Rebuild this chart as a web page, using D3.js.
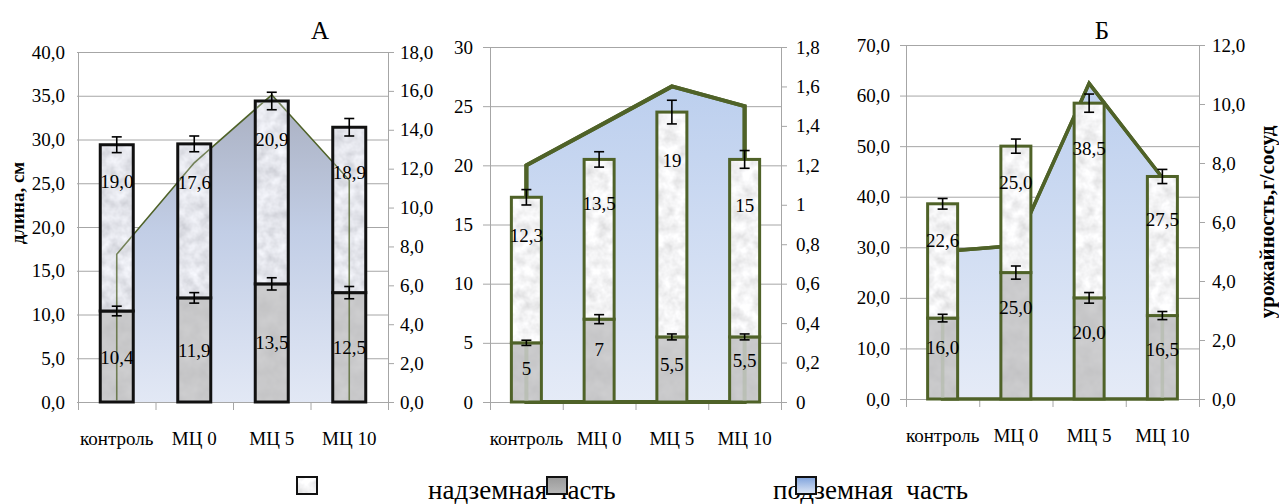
<!DOCTYPE html>
<html>
<head>
<meta charset="utf-8">
<script src="https://cdn.jsdelivr.net/npm/d3@7"></script>
<style>
  html, body { margin: 0; padding: 0; background: #fff; }
  svg { display: block; }
  svg text { font-family: 'Liberation Serif', 'Times New Roman', Tinos, serif !important; fill: #000; }
</style>
</head>
<body>
<svg id="chart" width="1279" height="504" font-family="Liberation Serif"></svg>
<script>
// ---- data ----
const categories = ["контроль", "МЦ 0", "МЦ 5", "МЦ 10"];

// Panel А: length, cm (left) and yield (right)
const topA      = [19.0, 17.6, 20.9, 18.9];
const bottomA   = [10.4, 11.9, 13.5, 12.5];
const topErrA   = [0.9, 0.9, 1.0, 1.0];
const bottomErrA= [0.55, 0.6, 0.7, 0.7];
const yieldA    = [7.6, 12.3, 15.8, 11.4];

// Middle panel
const topM      = [12.3, 13.5, 19, 15];
const bottomM   = [5, 7, 5.5, 5.5];
const topErrM   = [0.65, 0.65, 1.0, 0.75];
const bottomErrM= [0.22, 0.38, 0.25, 0.25];
const yieldM    = [1.2, 1.4, 1.6, 1.5];

// Panel Б
const topB      = [22.6, 25.0, 38.5, 27.5];
const bottomB   = [16.0, 25.0, 20.0, 16.5];
const topErrB   = [1.05, 1.4, 1.8, 1.4];
const bottomErrB= [0.75, 1.3, 1.05, 0.8];
const yieldB    = [5.0, 5.2, 10.7, 7.5];

// label anchors (axis units) for the upper-segment and lower-segment value labels
const topLabelAtA = [25.2, 25.1, 30.0, 26.2];
const botLabelAtA = [5.1, 5.9, 6.8, 6.2];
const topLabelAtM = [14.1, 16.8, 20.4, 16.6];
const botLabelAtM = [2.8, 4.4, 3.2, 3.5];
const topLabelAtB = [31.4, 42.9, 49.6, 35.4];
const botLabelAtB = [10.1, 18.0, 13.1, 9.7];

const FONT = "'Liberation Serif', 'Times New Roman', serif";
const svg = d3.select("#chart");
const defs = svg.append("defs");

// ---- textures ----
function noiseFilter(id, freq, a, b, tint) {
  const f = defs.append("filter").attr("id", id)
    .attr("filterUnits", "userSpaceOnUse")
    .attr("x", 0).attr("y", 0).attr("width", 420).attr("height", 440);
  f.append("feTurbulence").attr("type", "fractalNoise")
    .attr("baseFrequency", freq).attr("numOctaves", 3).attr("seed", 7);
  const m = [
    a, 0, 0, 0, b + tint[0],
    a, 0, 0, 0, b + tint[1],
    a, 0, 0, 0, b + tint[2],
    0, 0, 0, 0, 1
  ];
  f.append("feColorMatrix").attr("type", "matrix").attr("values", m.join(" "));
}
function pattern(id, filterId) {
  const p = defs.append("pattern").attr("id", id)
    .attr("patternUnits", "userSpaceOnUse")
    .attr("width", 420).attr("height", 440);
  p.append("rect").attr("width", 420).attr("height", 440)
    .attr("filter", `url(#${filterId})`);
}
noiseFilter("nLight", 0.09, 0.46, 0.67, [0, 0, 0.01]);
noiseFilter("nBlueGray", 0.09, 0.44, 0.56, [0, 0.01, 0.06]);
noiseFilter("nDark", 0.06, 0.12, 0.52, [0, 0, 0.01]);
pattern("texLight", "nLight");
pattern("texA", "nBlueGray");
pattern("texDark", "nDark");

function vGrad(id, stops) {
  const g = defs.append("linearGradient").attr("id", id)
    .attr("x1", 0).attr("y1", 0).attr("x2", 0).attr("y2", 1);
  stops.forEach(s => g.append("stop").attr("offset", s[0]).attr("stop-color", s[1]));
}
vGrad("areaA", [[0, "#a9afc0"], [0.45, "#c2cee6"], [1, "#e2e8f5"]]);
vGrad("areaBlue", [[0, "#bccfee"], [1, "#e5ebf7"]]);
vGrad("legendBlue", [[0, "#7ea2dc"], [1, "#e0e8f6"]]);
vGrad("legendGray", [[0, "#9a9a9a"], [1, "#b8b8b8"]]);

const fmt1 = v => v.toFixed(1).replace(".", ",");
const fmtShort = v => String(Math.round(v * 10) / 10).replace(".", ",");

const green = "#4f6228";
const gridCol = "#a6a6a6";

function serif(sel, size) {
  sel.attr("font-family", FONT).style("font-family", FONT).style("font-size", size + "px");
  return sel;
}

// ---- one panel ----
function drawPanel(cfg) {
  const g = svg.append("g");
  const x = d3.scaleBand().domain(categories).range([cfg.left, cfg.right]).padding(0);
  const y = d3.scaleLinear().domain([0, cfg.yMax]).range([cfg.bottom, cfg.top]);
  const yR = d3.scaleLinear().domain([0, cfg.rMax]).range([cfg.bottom, cfg.top]);
  const cx = c => x(c) + x.bandwidth() / 2;
  const leftTicks = d3.range(0, cfg.yMax + 1e-9, cfg.yStep);
  const rightTicks = d3.range(0, cfg.rMax + 1e-9, cfg.rStep).map(v => Math.round(v * 10) / 10);

  // gridlines
  const grid = g.append("g").attr("transform", `translate(${cfg.left},0)`)
    .call(d3.axisLeft(y).tickValues(leftTicks).tickSize(-(cfg.right - cfg.left)).tickFormat(""));
  grid.select(".domain").remove();
  grid.selectAll(".tick line").attr("stroke", gridCol).attr("x1", -cfg.outTick);

  // left axis labels + axis line
  const ax = g.append("g").attr("transform", `translate(${cfg.left},0)`)
    .call(d3.axisLeft(y).tickValues(leftTicks).tickSize(0).tickPadding(cfg.leftPad).tickFormat(cfg.leftFmt));
  ax.select(".domain").attr("stroke", gridCol);
  serif(ax.attr("font-family", FONT).selectAll("text"), 19);

  // right axis
  const axR = g.append("g").attr("transform", `translate(${cfg.right},0)`)
    .call(d3.axisRight(yR).tickValues(rightTicks).tickSize(6).tickPadding(cfg.rightPad).tickFormat(cfg.rightFmt));
  axR.select(".domain").attr("stroke", gridCol);
  axR.selectAll(".tick line").attr("stroke", gridCol);
  serif(axR.attr("font-family", FONT).selectAll("text"), 19);

  // category axis: boundary ticks + labels
  const xb = d3.scaleLinear().domain([0, categories.length]).range([cfg.left, cfg.right]);
  const axB = g.append("g").attr("transform", `translate(0,${cfg.bottom})`)
    .call(d3.axisBottom(xb).ticks(categories.length).tickSize(8).tickFormat(""));
  axB.select(".domain").attr("stroke", gridCol);
  axB.selectAll(".tick line").attr("stroke", gridCol);
  const axL = g.append("g").attr("transform", `translate(0,${cfg.bottom})`)
    .call(d3.axisBottom(x).tickSize(0).tickPadding(30));
  axL.select(".domain").remove();
  serif(axL.attr("font-family", FONT).selectAll("text"), 19);

  // yield area (secondary axis)
  const area = d3.area().x((d, i) => cx(categories[i])).y0(yR(0)).y1(d => yR(d));
  g.append("path").datum(cfg.yieldVals).attr("d", area)
    .attr("fill", cfg.areaFill)
    .attr("stroke", cfg.strokeBase ? green : "none").attr("stroke-width", cfg.lineW);
  const outline = () => {
    const n = cfg.yieldVals.length;
    const pts = [[cx(categories[0]), yR(0)]]
      .concat(cfg.yieldVals.map((v, i) => [cx(categories[i]), yR(v)]))
      .concat([[cx(categories[n - 1]), yR(0)]]);
    return d3.line()(pts);
  };
  g.append("path").attr("d", outline()).attr("fill", "none")
    .attr("stroke", green).attr("stroke-width", cfg.lineW).attr("stroke-linejoin", "miter");

  // bars
  const bw = cfg.barW;
  const clipId = "clip" + cfg.id;
  const clip = defs.append("clipPath").attr("id", clipId);
  categories.forEach((c, i) => {
    const b = cfg.bottomVals[i], t = cfg.topVals[i];
    const x0 = cx(c) - bw / 2;
    g.append("rect").attr("x", x0).attr("y", y(b)).attr("width", bw).attr("height", y(0) - y(b))
      .attr("fill", "url(#texDark)").attr("stroke", cfg.barStroke).attr("stroke-width", 3);
    g.append("rect").attr("x", x0).attr("y", y(b + t)).attr("width", bw).attr("height", y(b) - y(b + t))
      .attr("fill", `url(#${cfg.topTex})`).attr("stroke", cfg.barStroke).attr("stroke-width", 3);
    clip.append("rect").attr("x", x0 + 1.5).attr("y", cfg.lineThroughTop ? y(b + t) + 1.5 : y(b) + 1.5)
      .attr("width", bw - 3).attr("height", (cfg.lineThroughTop ? y(0) - y(b + t) : y(0) - y(b)) - 3);
  });
  // outline seen through the bars
  g.append("path").attr("d", outline()).attr("fill", "none")
    .attr("clip-path", `url(#${clipId})`)
    .attr("stroke", cfg.throughColor).attr("stroke-width", cfg.lineW).attr("opacity", cfg.throughOpacity);

  // error bars
  const errBar = (xc, v, e) => {
    const eg = g.append("g").attr("stroke", "#000").attr("stroke-width", 1.6);
    eg.append("line").attr("x1", xc).attr("x2", xc).attr("y1", y(v - e)).attr("y2", y(v + e));
    eg.append("line").attr("x1", xc - 5).attr("x2", xc + 5).attr("y1", y(v - e)).attr("y2", y(v - e));
    eg.append("line").attr("x1", xc - 5).attr("x2", xc + 5).attr("y1", y(v + e)).attr("y2", y(v + e));
  };
  categories.forEach((c, i) => {
    const b = cfg.bottomVals[i], t = cfg.topVals[i];
    errBar(cx(c), b, cfg.bottomErr[i]);
    errBar(cx(c), b + t, cfg.topErr[i]);
  });

  // value labels
  categories.forEach((c, i) => {
    serif(g.append("text").attr("x", cx(c)).attr("y", y(cfg.topLabelAt[i]))
      .attr("text-anchor", "middle").attr("dominant-baseline", "central"), 19)
      .text(cfg.labelFmt(cfg.topVals[i]));
    serif(g.append("text").attr("x", cx(c)).attr("y", y(cfg.botLabelAt[i]))
      .attr("text-anchor", "middle").attr("dominant-baseline", "central"), 19)
      .text(cfg.labelFmt(cfg.bottomVals[i]));
  });
}

drawPanel({
  id: "A", left: 78, right: 388, top: 52, bottom: 402,
  yMax: 40, yStep: 5, rMax: 18, rStep: 2, outTick: 1,
  leftPad: 13, rightPad: 6, leftFmt: fmt1, rightFmt: fmt1, labelFmt: fmt1,
  barW: 33, barStroke: "#111", topTex: "texA",
  lineW: 1.6, areaFill: "url(#areaA)", strokeBase: false,
  lineThroughTop: true, throughColor: green, throughOpacity: 0.75,
  topVals: topA, bottomVals: bottomA, topErr: topErrA, bottomErr: bottomErrA,
  yieldVals: yieldA, topLabelAt: topLabelAtA, botLabelAt: botLabelAtA
});
drawPanel({
  id: "M", left: 490, right: 781, top: 47, bottom: 402,
  yMax: 30, yStep: 5, rMax: 1.8, rStep: 0.2, outTick: 7,
  leftPad: 17, rightPad: 9, leftFmt: d3.format("d"), rightFmt: fmtShort, labelFmt: fmtShort,
  barW: 30, barStroke: green, topTex: "texLight",
  lineW: 4, areaFill: "url(#areaBlue)", strokeBase: true,
  lineThroughTop: false, throughColor: "#b7bdb0", throughOpacity: 0.8,
  topVals: topM, bottomVals: bottomM, topErr: topErrM, bottomErr: bottomErrM,
  yieldVals: yieldM, topLabelAt: topLabelAtM, botLabelAt: botLabelAtM
});
drawPanel({
  id: "B", left: 906, right: 1199, top: 45, bottom: 399,
  yMax: 70, yStep: 10, rMax: 12, rStep: 2, outTick: 6,
  leftPad: 16, rightPad: 7, leftFmt: fmt1, rightFmt: fmt1, labelFmt: fmt1,
  barW: 30, barStroke: green, topTex: "texLight",
  lineW: 3.5, areaFill: "url(#areaBlue)", strokeBase: true,
  lineThroughTop: false, throughColor: "#b7bdb0", throughOpacity: 0.8,
  topVals: topB, bottomVals: bottomB, topErr: topErrB, bottomErr: bottomErrB,
  yieldVals: yieldB, topLabelAt: topLabelAtB, botLabelAt: botLabelAtB
});

// panel titles
serif(svg.append("text").attr("x", 320).attr("y", 39).attr("text-anchor", "middle"), 25).text("А");
serif(svg.append("text").attr("x", 1102).attr("y", 39).attr("text-anchor", "middle"), 25).text("Б");

// axis titles
serif(svg.append("text").attr("transform", "translate(24,203) rotate(-90)")
  .attr("text-anchor", "middle"), 19).style("font-weight", "bold").text("длина, см");
serif(svg.append("text").attr("transform", "translate(1274,222) rotate(-90)")
  .attr("text-anchor", "middle"), 21).style("font-weight", "bold").text("урожайность,г/сосуд");

// legend
const leg = svg.append("g");
serif(leg.append("text").attr("x", 428).attr("y", 499), 27)
  .style("white-space", "pre").text("надземная часть");
serif(leg.append("text").attr("x", 773).attr("y", 499), 27)
  .style("white-space", "pre").text("подземная  часть");
leg.append("rect").attr("x", 297).attr("y", 477).attr("width", 20).attr("height", 17)
  .attr("fill", "url(#texLight)").attr("stroke", "#111").attr("stroke-width", 2);
leg.append("rect").attr("x", 547).attr("y", 477).attr("width", 20).attr("height", 17)
  .attr("fill", "url(#legendGray)").attr("stroke", "#111").attr("stroke-width", 2);
leg.append("rect").attr("x", 796).attr("y", 477).attr("width", 20).attr("height", 17)
  .attr("fill", "url(#legendBlue)").attr("stroke", "#111").attr("stroke-width", 2);
</script>
</body>
</html>
